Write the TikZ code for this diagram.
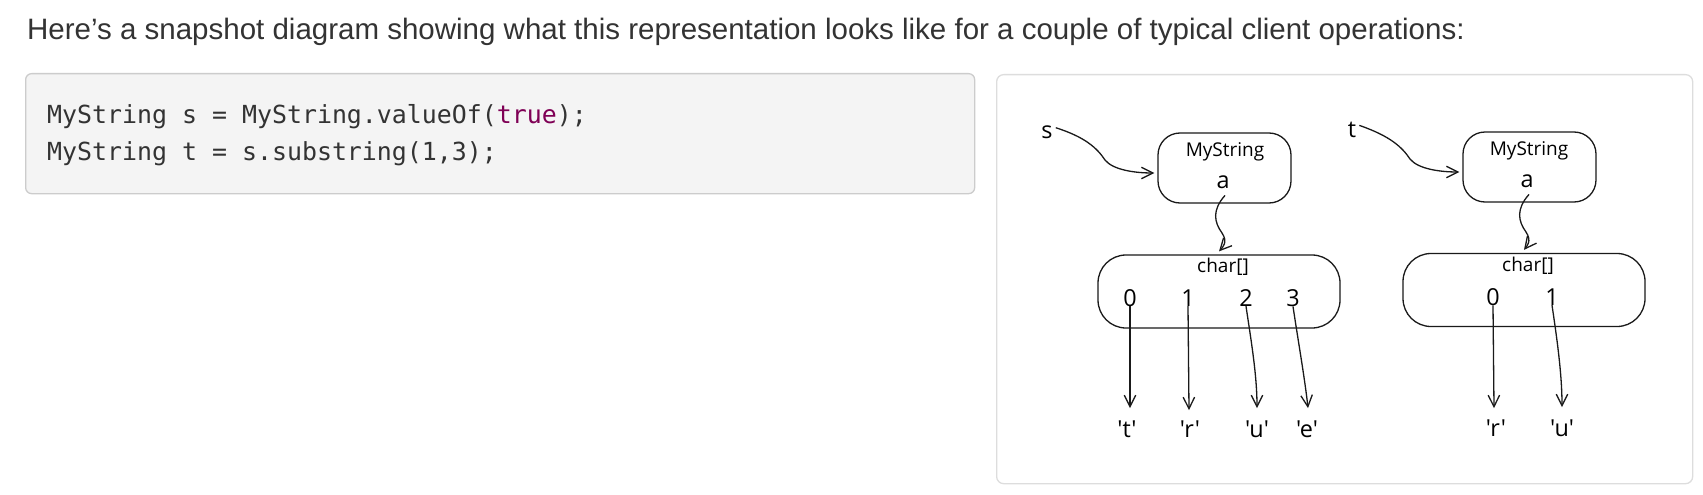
\documentclass[tikz,border=0pt]{standalone}
\usepackage{fontspec}
\usetikzlibrary{arrows.meta}
\newfontfamily\hdfont{Liberation Sans}
\newfontfamily\cdfont{DejaVu Sans Mono}
\newfontfamily\dgfont{Open Sans}
\definecolor{txt}{HTML}{333333}
\definecolor{kw}{HTML}{7F0055}
\definecolor{codebg}{HTML}{F4F4F4}
\definecolor{codeline}{HTML}{CCCCCC}
\definecolor{panelline}{HTML}{DDDDDD}
\definecolor{ink}{HTML}{1A1A1A}
\tikzset{
  headtxt/.style={anchor=base west, inner sep=0pt, text=txt, font=\hdfont\fontsize{29.5}{34}\selectfont},
  codetxt/.style={anchor=base west, inner sep=0pt, text=txt, font=\cdfont\fontsize{24.9}{30}\selectfont},
  codebox/.style={draw=codeline, fill=codebg, line width=1.3pt, rounded corners=6pt, anchor=north west, inner sep=0pt},
  panelbox/.style={draw=panelline, fill=white, line width=1.3pt, rounded corners=7pt, anchor=north west, inner sep=0pt},
  bigtxt/.style={anchor=base, inner sep=0pt, text=black, font=\dgfont\fontsize{23.4}{28}\selectfont},
  smalltxt/.style={anchor=base, inner sep=0pt, text=black, font=\dgfont\fontsize{19}{23}\selectfont},
  objbox/.style={draw=ink, line width=1.3pt, inner sep=0pt},
  ptr/.style={draw=ink, line width=1.3pt, -{Straight Barb[length=11.5pt,width=11.5pt,line width=1.3pt]}},
}
\begin{document}
\begin{tikzpicture}[x=1pt,y=-1pt]
\useasboundingbox (0,0) rectangle (1703,495);
\fill[white] (0,0) rectangle (1703,495);

% heading
\node[headtxt] (head) at (27,40) {Here’s a snapshot diagram showing what this representation looks like for a couple of typical client operations:};

% code panel
\node[codebox, minimum width=949pt, minimum height=120pt] (code) at (25,73) {};
\node[codetxt] (line1) at (47,123) {MyString s = MyString.valueOf(\textcolor{kw}{true});};
\node[codetxt] (line2) at (47,160) {MyString t = s.substring(1,3);};

% diagram panel
\node[panelbox, minimum width=696pt, minimum height=409pt] (panel) at (996,74) {};

% ---------- first snapshot (s) ----------
\node[bigtxt] (s) at (1047,138) {s};
\node[objbox, minimum width=133pt, minimum height=70pt, rounded corners=22pt] (ms1) at (1224.5,168) {};
\node[smalltxt] (ms1t) at (1225,156) {MyString};
\node[bigtxt] (ms1a) at (1223,188) {a};
\node[objbox, minimum width=242pt, minimum height=73pt, rounded corners=28pt] (ch1) at (1219,291.5) {};
\node[smalltxt] (ch1t) at (1223,272) {char[]};
\node[bigtxt] (d10) at (1130,306) {0};
\node[bigtxt] (d11) at (1188,306) {1};
\node[bigtxt] (d12) at (1246,306) {2};
\node[bigtxt] (d13) at (1293,306) {3};
\node[bigtxt] (v10) at (1127,437) {'t'};
\node[bigtxt] (v11) at (1190,437) {'r'};
\node[bigtxt] (v12) at (1257,437) {'u'};
\node[bigtxt] (v13) at (1307,437) {'e'};

\draw[ptr] ([xshift=3pt,yshift=4pt]s.east) .. controls (1085,137) and (1097,148) .. (1105,160) .. controls (1113,170) and (1135,173) .. ([xshift=-3pt,yshift=-5pt]ms1.west);
\draw[ptr] ([xshift=2pt,yshift=-7pt]ms1a.south) .. controls (1212,210) and (1214,222) .. (1222,233) .. controls (1228,242) and (1223,247) .. ([yshift=3pt]ch1.north);
\draw[ptr] (d10.south) -- ([xshift=3pt,yshift=12pt]v10.north);
\draw[ptr] (d11.south) -- ([xshift=-1pt,yshift=10pt]v11.north);
\draw[ptr] (d12.south) .. controls (1251,340) and (1257,375) .. ([yshift=12pt]v12.north);
\draw[ptr] (d13.south) .. controls (1298,340) and (1305,380) .. ([xshift=1pt,yshift=12pt]v13.north);

% ---------- second snapshot (t) ----------
\node[bigtxt] (t) at (1352,137) {t};
\node[objbox, minimum width=133pt, minimum height=70pt, rounded corners=22pt] (ms2) at (1529.5,167) {};
\node[smalltxt] (ms2t) at (1529,155) {MyString};
\node[bigtxt] (ms2a) at (1527,187) {a};
\node[objbox, minimum width=242pt, minimum height=73pt, rounded corners=28pt] (ch2) at (1524,290) {};
\node[smalltxt] (ch2t) at (1528,271) {char[]};
\node[bigtxt] (d20) at (1493,305) {0};
\node[bigtxt] (d21) at (1552,305) {1};
\node[bigtxt] (v20) at (1496,436) {'r'};
\node[bigtxt] (v21) at (1562,436) {'u'};

\draw[ptr] ([xshift=3pt,yshift=4pt]t.east) .. controls (1390,136) and (1402,147) .. (1410,159) .. controls (1418,169) and (1440,172) .. ([xshift=-3pt,yshift=-5pt]ms2.west);
\draw[ptr] ([xshift=2pt,yshift=-7pt]ms2a.south) .. controls (1516,209) and (1518,221) .. (1526,232) .. controls (1532,241) and (1527,246) .. ([yshift=3pt]ch2.north);
\draw[ptr] (d20.south) -- ([xshift=-2pt,yshift=11pt]v20.north);
\draw[ptr] (d21.south) .. controls (1557,339) and (1562,374) .. ([yshift=12pt]v21.north);
\end{tikzpicture}
\end{document}
